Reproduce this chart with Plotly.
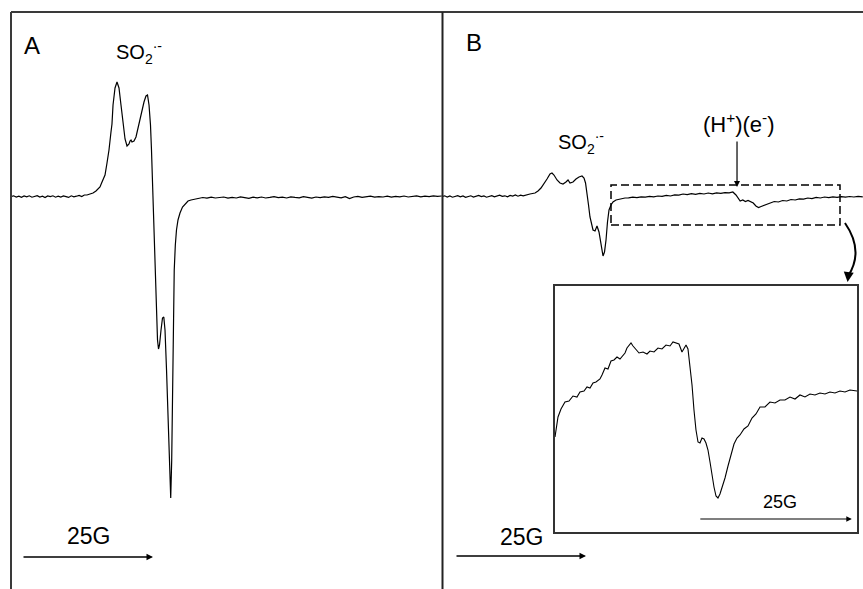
import plotly.graph_objects as go

# ---------------- data (field in G, signal in a.u.) ----------------
# Panel A
a_base_left_field = [0.0, 0.5, 1.0, 1.5, 2.0, 2.5, 3.0, 3.5, 4.0, 4.5, 5.0, 5.5, 6.0, 6.5, 7.0,
                     7.5, 8.0, 8.5, 9.0, 9.5, 10.0, 10.5, 11.0, 11.5, 12.0, 12.5, 13.0, 13.5, 14.0]
a_base_left_signal = [0.05, 0.12, 0.0, 0.08, -0.04, 0.1, 0.02, 0.12, -0.02, 0.06, 0.14, 0.0, 0.08, -0.06, 0.1,
                      0.04, 0.12, -0.02, 0.08, 0.0, 0.1, 0.04, -0.04, 0.12, 0.02, 0.08, 0.16, 0.04, 0.2]
a_peak_field = [14.5, 15.08, 15.65, 16.22, 16.6, 16.98, 17.37, 17.94, 18.32, 18.7,
                19.08, 19.27, 19.47, 19.85, 20.23, 20.61, 20.99, 21.37, 21.76, 22.14,
                22.52, 22.71, 22.9, 23.09, 23.47, 23.85, 24.24, 24.62, 25.0, 25.38,
                25.76, 26.05, 26.34, 26.62, 26.81, 27.1, 27.39, 27.58, 27.77, 27.96,
                28.15, 28.34, 28.63, 28.91, 29.16, 29.39, 29.68, 29.96, 30.25, 30.48,
                30.67, 30.82, 30.97, 31.15, 31.36, 31.58, 31.87, 32.25, 32.73, 33.21,
                33.78, 34.35, 35.11]
a_peak_signal = [0.2, 0.3, 0.4, 0.6, 0.8, 1.0, 1.5, 2.2, 3.4, 4.7,
                 6.5, 7.3, 9.2, 10.9, 11.5, 10.9, 9.2, 7.3, 5.8, 5.1,
                 5.3, 5.6, 5.7, 5.5, 5.6, 6.0, 6.9, 7.8, 8.7, 9.5,
                 10.1, 10.2, 9.2, 7.2, 4.7, 0.0, -5.3, -9.3, -12.3, -14.3,
                 -15.2, -14.8, -13.3, -12.1, -12.0, -13.3, -17.3, -22.3, -26.8, -30.1,
                 -26.3, -19.3, -12.3, -7.3, -4.8, -3.3, -2.3, -1.6, -1.0, -0.7,
                 -0.4, -0.3, -0.2]
a_base_right_field = [35.8, 36.6, 37.4, 38.2, 39.0, 39.8, 40.6, 41.4, 42.2, 43.0,
                      43.8, 44.6, 45.4, 46.2, 47.0, 47.8, 48.6, 49.4, 50.2, 51.0,
                      51.8, 52.6, 53.4, 54.2, 55.0, 55.8, 56.6, 57.4, 58.2, 59.0,
                      59.8, 60.6, 61.4, 62.2, 63.0, 63.8, 64.6, 65.4, 66.2, 67.0,
                      67.8, 68.6, 69.4, 70.2, 71.0, 71.8, 72.6, 73.4, 74.2, 75.0,
                      75.8, 76.6, 77.4, 78.2, 79.0, 79.8, 80.6, 81.4, 82.2]
a_base_right_signal = [-0.15, -0.05, -0.12, -0.02, -0.1, -0.08, 0.0, -0.12, -0.04, -0.1,
                       0.02, -0.06, -0.14, -0.02, -0.08, 0.0, -0.1, -0.04, 0.04, -0.06,
                       -0.02, -0.1, 0.02, -0.04, -0.08, 0.04, -0.02, -0.12, 0.0, -0.06,
                       0.02, -0.04, 0.06, -0.02, -0.08, 0.04, -0.16, 0.0, 0.06, -0.04,
                       0.02, 0.08, -0.02, 0.04, 0.0, 0.08, -0.02, 0.06, 0.02, 0.1,
                       0.0, 0.06, 0.12, 0.02, 0.08, 0.04, 0.12, 0.06, 0.1]

# Panel B
b_base_left_field = [0.0, 0.5, 1.0, 1.5, 2.0, 2.5, 3.0, 3.5, 4.0, 4.5, 5.0, 5.5, 6.0, 6.5, 7.0, 7.5,
                     8.0, 8.5, 9.0, 9.5, 10.0, 10.5, 11.0, 11.5, 12.0, 12.5, 13.0, 13.5, 14.0, 14.5,
                     15.0, 15.5, 16.0]
b_base_left_signal = [0.05, 0.12, 0.0, 0.1, -0.02, 0.08, 0.14, 0.02, 0.1, -0.04, 0.06, 0.12, 0.0, 0.08, 0.16, 0.04,
                      0.1, -0.02, 0.08, 0.14, 0.02, 0.1, 0.18, 0.06, 0.12, 0.02, 0.16, 0.1, 0.2, 0.08,
                      0.18, 0.12, 0.22]
b_peak_field = [16.79, 17.75, 18.32, 18.89, 19.47, 20.04, 20.61, 20.99, 21.37, 21.95,
                22.52, 23.09, 23.66, 24.05, 24.43, 25.0, 25.57, 26.15, 26.72, 27.1,
                27.39, 27.67, 27.96, 28.24, 28.53, 28.82, 29.2, 29.58, 29.96, 30.34,
                30.73, 31.01, 31.3, 31.58, 31.87, 32.25, 32.63, 33.21, 33.97, 34.92]
b_peak_signal = [0.3, 0.4, 0.6, 0.9, 1.3, 1.8, 2.3, 2.4, 2.2, 1.7,
                 1.4, 1.3, 1.5, 1.7, 1.4, 1.5, 1.8, 2.0, 2.1, 1.9,
                 1.4, 0.5, -0.8, -2.0, -2.8, -3.3, -3.4, -2.9, -3.5, -4.9,
                 -5.9, -5.5, -4.3, -2.5, -1.3, -0.8, -0.5, -0.3, -0.2, -0.1]
b_tail_field = [35.6, 36.4, 37.2, 38.0, 38.8, 39.6, 40.4, 41.2, 42.0, 42.8,
                43.6, 44.4, 45.2, 46.0, 46.8, 47.6, 48.4, 49.2, 50.0, 50.8,
                51.6, 52.4, 53.2, 54.0, 54.8, 55.5, 56.1, 56.5, 56.9, 57.4,
                57.9, 58.4, 58.9, 59.4, 59.9, 60.4, 60.9, 61.4, 62.0, 62.6,
                63.4, 64.2, 65.0, 65.8, 66.6, 67.4, 68.2, 69.0, 69.8, 70.6,
                71.4, 72.2, 73.0, 73.8, 74.6, 75.4, 76.2, 77.0, 77.8, 78.6,
                79.4, 80.3]
b_tail_signal = [-0.08, -0.02, -0.06, 0.02, -0.02, 0.06, 0.02, 0.1, 0.06, 0.16,
                 0.1, 0.22, 0.18, 0.3, 0.24, 0.34, 0.26, 0.36, 0.3, 0.4,
                 0.32, 0.42, 0.36, 0.44, 0.42, 0.5, 0.2, -0.1, -0.4, -0.3,
                 -0.45, -0.35, -0.5, -0.6, -0.9, -1.05, -0.95, -0.85, -0.7, -0.6,
                 -0.45, -0.5, -0.35, -0.4, -0.25, -0.3, -0.18, -0.22, -0.1, -0.16,
                 -0.04, -0.1, 0.0, -0.06, 0.02, -0.04, 0.04, -0.02, 0.05, 0.0,
                 0.06, 0.02]

# Inset (expanded (H+)(e-) region)
inset_field = [0.0, 0.25, 0.49, 0.98, 1.63, 2.29, 2.94, 3.59, 4.08, 4.74,
               5.23, 5.72, 6.21, 6.7, 7.35, 7.68, 8.17, 8.66, 9.15, 9.64,
               10.13, 10.62, 11.11, 11.44, 11.76, 12.09, 12.42, 12.75, 13.24, 13.73,
               14.38, 15.03, 15.52, 16.18, 16.83, 17.48, 18.14, 18.79, 19.28, 19.77,
               20.26, 20.75, 21.08, 21.41, 21.73, 22.06, 22.39, 22.71, 23.04, 23.37,
               23.69, 24.02, 24.35, 24.67, 25.0, 25.33, 25.65, 25.98, 26.31, 26.63,
               26.96, 27.29, 27.78, 28.27, 28.76, 29.25, 29.74, 30.23, 30.88, 31.54,
               32.19, 32.84, 33.5, 34.31, 35.13, 35.95, 36.76, 37.58, 38.4, 39.22,
               40.03, 40.85, 41.67, 42.48, 43.3, 44.12, 44.93, 45.75, 46.57, 47.39,
               48.2, 49.35]
inset_signal = [0.3, 1.5, 2.3, 3.1, 3.8, 3.9, 4.4, 4.3, 4.8, 4.9,
                5.3, 5.2, 5.7, 5.8, 6.1, 6.5, 7.2, 7.1, 7.9, 8.0,
                8.3, 8.1, 8.4, 8.7, 9.2, 9.4, 9.7, 9.4, 9.0, 8.7,
                8.8, 8.6, 8.9, 8.8, 9.2, 9.1, 9.5, 9.4, 9.8, 9.7,
                9.6, 8.8, 9.2, 9.5, 9.1, 7.5, 5.5, 3.0, 1.0, -0.2,
                -0.3, 0.2, 0.1, -0.3, -1.0, -2.2, -3.5, -4.7, -5.6, -5.8,
                -5.4, -4.8, -3.8, -2.6, -1.4, -0.4, 0.2, 0.5, 1.1, 1.4,
                2.2, 2.6, 3.3, 3.3, 3.8, 3.7, 4.0, 4.0, 4.3, 4.1,
                4.5, 4.3, 4.6, 4.5, 4.7, 4.6, 4.8, 4.7, 4.9, 4.8,
                5.0, 4.9]

a_field = a_base_left_field + a_peak_field + a_base_right_field
a_signal = a_base_left_signal + a_peak_signal + a_base_right_signal
b_field = b_base_left_field + b_peak_field + b_tail_field
b_signal = b_base_left_signal + b_peak_signal + b_tail_signal

scale_bar_G = 25

FONT = "Liberation Sans, Arial, sans-serif"
INK = "black"
FRAME = "#3a3a3a"

fig = go.Figure()
fig.add_trace(go.Scatter(x=a_field, y=a_signal, mode="lines", xaxis="x", yaxis="y",
                         line=dict(color=INK, width=1.2), hoverinfo="skip"))
fig.add_trace(go.Scatter(x=b_field, y=b_signal, mode="lines", xaxis="x2", yaxis="y2",
                         line=dict(color=INK, width=1.2), hoverinfo="skip"))
fig.add_trace(go.Scatter(x=inset_field, y=inset_signal, mode="lines", xaxis="x3", yaxis="y3",
                         line=dict(color=INK, width=1.1), hoverinfo="skip"))

W, H = 863, 589
def px(v):
    return v / W
def py(v):
    return 1 - v / H

hidden = dict(visible=False, showgrid=False, zeroline=False, fixedrange=True)
fig.update_layout(
    width=W, height=H, margin=dict(l=0, r=0, t=0, b=0),
    paper_bgcolor="white", plot_bgcolor="rgba(0,0,0,0)", showlegend=False,
    font=dict(family=FONT, color=INK),
    xaxis=dict(hidden, domain=[px(11), px(442)], range=[0, 82.25]),
    yaxis=dict(hidden, domain=[0, py(12)], range=[-39.2, 18.5]),
    xaxis2=dict(hidden, domain=[px(442), 1.0], range=[0, 80.34]),
    yaxis2=dict(hidden, domain=[0, py(12)], range=[-39.2, 18.5]),
    xaxis3=dict(visible=True, showgrid=False, zeroline=False, showticklabels=False, ticks="",
                showline=True, mirror=True, linecolor="#333", linewidth=1.5,
                domain=[px(555), px(857)], range=[0, 49.35], anchor="y3"),
    yaxis3=dict(visible=True, showgrid=False, zeroline=False, showticklabels=False, ticks="",
                showline=True, mirror=True, linecolor="#333", linewidth=1.5,
                domain=[py(532), py(286)], range=[-9.2, 15.4], anchor="x3"),
)

shapes = [
    # outer frame: top, left, divider
    dict(type="line", xref="paper", yref="paper", x0=px(11), x1=1.0, y0=py(12), y1=py(12),
         line=dict(color=FRAME, width=2)),
    dict(type="line", xref="paper", yref="paper", x0=px(11), x1=px(11), y0=0, y1=py(12),
         line=dict(color=FRAME, width=2)),
    dict(type="line", xref="paper", yref="paper", x0=px(442.5), x1=px(442.5), y0=0, y1=py(12),
         line=dict(color="#222", width=2)),
    # dashed selection box in panel B
    dict(type="rect", xref="x2", yref="y2", x0=32.25, x1=75.95, y0=-2.8, y1=1.2,
         line=dict(color=INK, width=1.5, dash="8px,4px")),
    # curved arrow to inset
    dict(type="path", xref="x2", yref="y2", path="M 76.9,-2.6 Q 80.6,-5.4 77.5,-7.9",
         line=dict(color=INK, width=2)),
]
fig.update_layout(shapes=shapes)

annotations = [
    dict(text="A", xref="paper", yref="paper", x=px(22), y=py(46), xanchor="left", yanchor="middle",
         showarrow=False, font=dict(size=24)),
    dict(text="B", xref="paper", yref="paper", x=px(464), y=py(42), xanchor="left", yanchor="middle",
         showarrow=False, font=dict(size=24)),
    dict(text="SO<sub>2</sub><sup>·-</sup>", xref="x", yref="y", x=19.6, y=14.4,
         xanchor="left", yanchor="middle", showarrow=False, font=dict(size=20)),
    dict(text="SO<sub>2</sub><sup>·-</sup>", xref="x2", yref="y2", x=21.7, y=5.4,
         xanchor="left", yanchor="middle", showarrow=False, font=dict(size=20)),
    dict(text="(H<sup>+</sup>)(e<sup>-</sup>)", xref="x2", yref="y2", x=49.4, y=7.4,
         xanchor="left", yanchor="middle", showarrow=False, font=dict(size=22)),
    # arrow pointing at the (H+)(e-) feature
    dict(text="", xref="x2", yref="y2", x=56.3, y=1.0, axref="x2", ayref="y2", ax=56.3, ay=5.7,
         showarrow=True, arrowhead=2, arrowsize=1, arrowwidth=1.2, arrowcolor=INK),
    # head of curved arrow
    dict(text="", xref="x2", yref="y2", x=77.4, y=-8.5, axref="x2", ayref="y2", ax=77.6, ay=-7.6,
         showarrow=True, arrowhead=2, arrowsize=1, arrowwidth=2, arrowcolor=INK),
    # scale bars
    dict(text="25G", xref="x", yref="y", x=14.7, y=-33.9, showarrow=False, font=dict(size=23)),
    dict(text="", xref="x", yref="y", x=2.1 + scale_bar_G, y=-36.0, axref="x", ayref="y", ax=2.1, ay=-36.0,
         showarrow=True, arrowhead=2, arrowsize=1, arrowwidth=1.3, arrowcolor=INK),
    dict(text="25G", xref="x2", yref="y2", x=15.1, y=-34.0, showarrow=False, font=dict(size=23)),
    dict(text="", xref="x2", yref="y2", x=2.48 + scale_bar_G, y=-35.9, axref="x2", ayref="y2", ax=2.48, ay=-35.9,
         showarrow=True, arrowhead=2, arrowsize=1, arrowwidth=1.3, arrowcolor=INK),
    dict(text="25G", xref="x3", yref="y3", x=36.8, y=-6.2, showarrow=False, font=dict(size=18)),
    dict(text="", xref="x3", yref="y3", x=23.5 + scale_bar_G, y=-7.9, axref="x3", ayref="y3", ax=23.5, ay=-7.9,
         showarrow=True, arrowhead=2, arrowsize=1, arrowwidth=1.1, arrowcolor=INK),
]
fig.update_layout(annotations=annotations)

# remove the default page margin so the 863x589 figure fills the window exactly
fig.write_html("out.html", config={"displayModeBar": False},
               post_script="document.body.style.margin='0px';document.documentElement.style.overflow='hidden';")
